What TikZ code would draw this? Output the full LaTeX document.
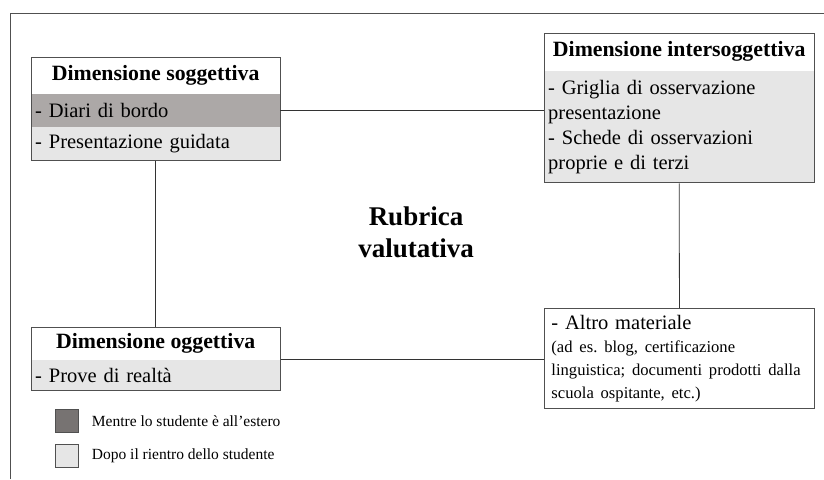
\documentclass[tikz,border=0pt]{standalone}
\usepackage{fontspec}
\setmainfont{Liberation Serif}
\usepackage{xcolor}
\usetikzlibrary{positioning, fit}

\definecolor{rowdark}{HTML}{ACA8A7}
\definecolor{rowlight}{HTML}{E6E6E6}
\definecolor{legenddark}{HTML}{777372}
\definecolor{boxline}{HTML}{505050}

\frenchspacing

\begin{document}
\begin{tikzpicture}[
    x=1pt, y=-1pt,
    % --- STYLES ---
    head_node/.style={
        font=\fontsize{21.8}{25}\selectfont\bfseries,
        inner sep=0pt, anchor=north west
    },
    row_node/.style={
        font=\fontsize{20.5}{25}\selectfont,
        inner xsep=4pt, inner ysep=0pt,
        align=left
    },
    frame_box/.style={draw=boxline, line width=0.9pt, inner sep=0pt},
    key_box/.style={draw=boxline, line width=0.7pt, minimum width=23pt, minimum height=23pt, inner sep=0pt, anchor=north west},
    key_text/.style={font=\fontsize{15.5}{18}\selectfont, inner sep=0pt, anchor=west},
    link/.style={draw=black!80, line width=0.8pt}
]
\useasboundingbox (0,0) rectangle (824,479);

% --- outer frame (only top and left visible) ---
\draw[link, draw=boxline] (10,479) -- (10,13) -- (824,13);

% --- Dimensione soggettiva ---
\node[head_node, minimum width=249pt, minimum height=36pt] (sogg_head) at (31,57) {Dimensione soggettiva};
\node[row_node, fill=rowdark, text width=241pt, minimum height=33pt, below=0pt of sogg_head] (sogg_r1) {- Diari di bordo};
\node[row_node, fill=rowlight, text width=241pt, minimum height=33pt, below=0pt of sogg_r1] (sogg_r2) {- Presentazione guidata};
\node[frame_box, fit=(sogg_head)(sogg_r1)(sogg_r2)] (sogg) {};

% --- Dimensione intersoggettiva ---
\node[head_node, minimum width=270pt, minimum height=37pt] (inter_head) at (544,33) {Dimensione intersoggettiva};
\node[row_node, fill=rowlight, text width=262pt, minimum height=112pt, below=0pt of inter_head] (inter_r1) {%
    - Griglia di osservazione\\ presentazione\\ - Schede di osservazioni\\ proprie e di terzi};
\node[frame_box, fit=(inter_head)(inter_r1)] (inter) {};

% --- Dimensione oggettiva ---
\node[head_node, minimum width=249pt, minimum height=32pt] (ogg_head) at (31,327) {Dimensione oggettiva};
\node[row_node, fill=rowlight, text width=241pt, minimum height=31pt, below=0pt of ogg_head] (ogg_r1) {- Prove di realtà};
\node[frame_box, fit=(ogg_head)(ogg_r1)] (ogg) {};

% --- Altro materiale ---
\node[row_node, frame_box, inner xsep=7pt, text width=256pt, minimum height=100pt, anchor=north west] (altro) at (544,308) {%
    - Altro materiale\par
    {\fontsize{16.6}{23}\selectfont (ad es. blog, certificazione\\ linguistica; documenti prodotti dalla\\ scuola ospitante, etc.)\par}};

% --- centre title ---
\node[font=\fontsize{27}{32}\selectfont\bfseries, align=center] (rubrica) at (416,232) {Rubrica\\ valutativa};

% --- legend ---
\node[key_box, fill=legenddark] (key_dark) at (55,409) {};
\node[key_text, right=13pt of key_dark] (key_dark_txt) {Mentre lo studente è all’estero};
\node[key_box, fill=rowlight] (key_light) at (55,444) {};
\node[key_text, right=13pt of key_light] (key_light_txt) {Dopo il rientro dello studente};

% --- CONNECTORS ---
\draw[link] (sogg_r1.east) -- (sogg_r1.east -| inter.west);
\draw[link] (sogg.south) -- (ogg.north);
\draw[link] (inter.south) -- (altro.north);
\draw[link] (ogg.east) -- (altro.west |- ogg.east);

\end{tikzpicture}
\end{document}
